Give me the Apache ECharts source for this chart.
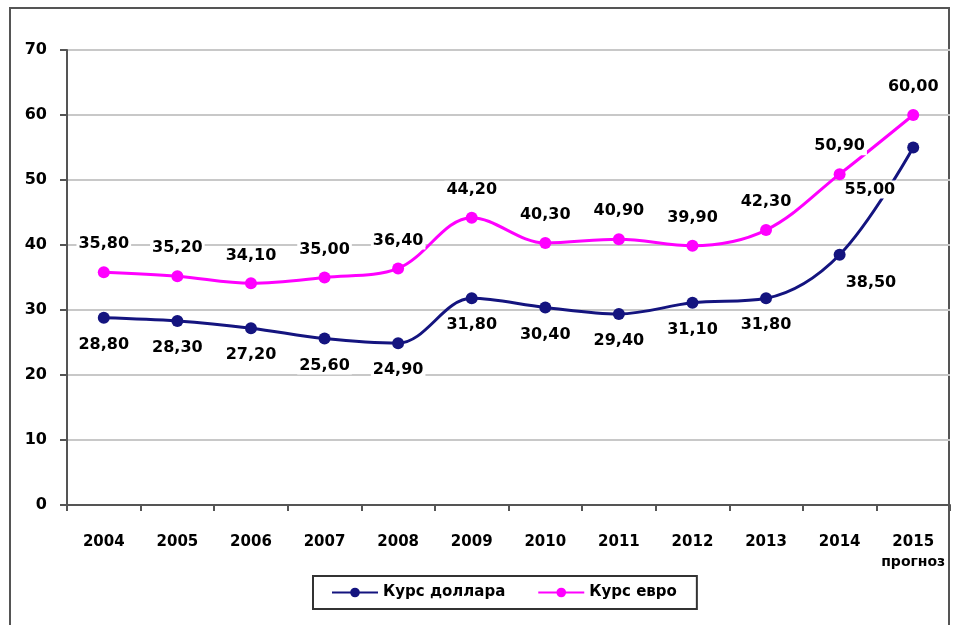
<!DOCTYPE html>
<html>
<head>
<meta charset="utf-8">
<script src="https://cdn.jsdelivr.net/npm/echarts@6/dist/echarts.min.js"></script>
<style>
  html, body { margin: 0; padding: 0; background: #fff; }
  #chart { width: 956px; height: 625px; }
</style>
</head>
<body>
<div id="chart"></div>
<script>
  // данные
  var years = ['2004', '2005', '2006', '2007', '2008', '2009', '2010', '2011', '2012', '2013', '2014', '2015\nпрогноз'];
  var dollar = [28.8, 28.3, 27.2, 25.6, 24.9, 31.8, 30.4, 29.4, 31.1, 31.8, 38.5, 55.0];
  var euro = [35.8, 35.2, 34.1, 35.0, 36.4, 44.2, 40.3, 40.9, 39.9, 42.3, 50.9, 60.0];
  var yTicks = [0, 10, 20, 30, 40, 50, 60, 70];

  var font = '"DejaVu Sans", Arial, sans-serif';
  var labelStyle = {
    show: true,
    fontFamily: font,
    fontWeight: 'bold',
    fontSize: 16,
    color: '#000',
    backgroundColor: '#fff',
    padding: [1, 2],
    formatter: function (p) { return p.value.toFixed(2).replace('.', ','); }
  };

  var dollarData = dollar.map(function (v, i) {
    var item = { value: v };
    if (i === 10) item.label = { position: 'right', offset: [-14, 28] };
    if (i === 11) item.label = { position: 'left', offset: [2, 42] };
    return item;
  });

  var myChart = echarts.init(document.getElementById('chart'));
  var option = {
    backgroundColor: '#fff',
    animation: false,
    grid: { left: 67, right: 6, top: 50, bottom: 120 },
    graphic: [{
      type: 'polyline',
      shape: { points: [[10, 630], [10, 8], [949, 8], [949, 630]] },
      style: { stroke: '#555', lineWidth: 2, fill: null }
    }],
    legend: {
      bottom: 16,
      left: 313,
      data: ['Курс доллара', 'Курс евро'],
      itemWidth: 46,
      itemHeight: 12,
      itemGap: 32,
      padding: [9, 20, 9, 18],
      borderColor: '#333',
      borderWidth: 2,
      textStyle: { fontFamily: font, fontWeight: 'bold', fontSize: 15, color: '#000' }
    },
    xAxis: {
      type: 'category',
      data: years,
      boundaryGap: true,
      axisLine: { lineStyle: { color: '#555', width: 2 } },
      axisTick: { show: true, length: 6, lineStyle: { color: '#555', width: 2 } },
      axisLabel: {
        interval: 0,
        margin: 26,
        color: '#000',
        fontFamily: font,
        fontWeight: 'bold',
        fontSize: 15,
        lineHeight: 22,
        formatter: function (v) {
          var p = v.split('\n');
          return p.length > 1 ? p[0] + '\n{s|' + p[1] + '}' : v;
        },
        rich: { s: { fontFamily: font, fontWeight: 'bold', fontSize: 14, color: '#000', lineHeight: 18 } }
      }
    },
    yAxis: {
      type: 'value',
      min: 0,
      max: 70,
      interval: 10,
      axisLine: { show: true, lineStyle: { color: '#555', width: 2 } },
      axisTick: { show: true, length: 7, lineStyle: { color: '#555', width: 2 } },
      axisLabel: {
        margin: 20,
        color: '#000',
        fontFamily: font,
        fontWeight: 'bold',
        fontSize: 16,
        formatter: function (v) { return yTicks.indexOf(v) >= 0 ? String(v) : ''; }
      },
      splitLine: { show: true, lineStyle: { color: '#c8c8c8', width: 2 } }
    },
    series: [{
      name: 'Курс доллара',
      type: 'line',
      smooth: 0.35,
      symbol: 'circle',
      symbolSize: 12,
      color: '#14147f',
      lineStyle: { width: 3, color: '#14147f' },
      itemStyle: { color: '#14147f' },
      label: Object.assign({}, labelStyle, { position: 'bottom', distance: 12 }),
      data: dollarData,
      z: 3
    }, {
      name: 'Курс евро',
      type: 'line',
      smooth: 0.35,
      symbol: 'circle',
      symbolSize: 12,
      color: '#ff00ff',
      lineStyle: { width: 3, color: '#ff00ff' },
      itemStyle: { color: '#ff00ff' },
      label: Object.assign({}, labelStyle, { position: 'top', distance: 13 }),
      data: euro,
      z: 2
    }]
  };
  myChart.setOption(option, true);
</script>
</body>
</html>
